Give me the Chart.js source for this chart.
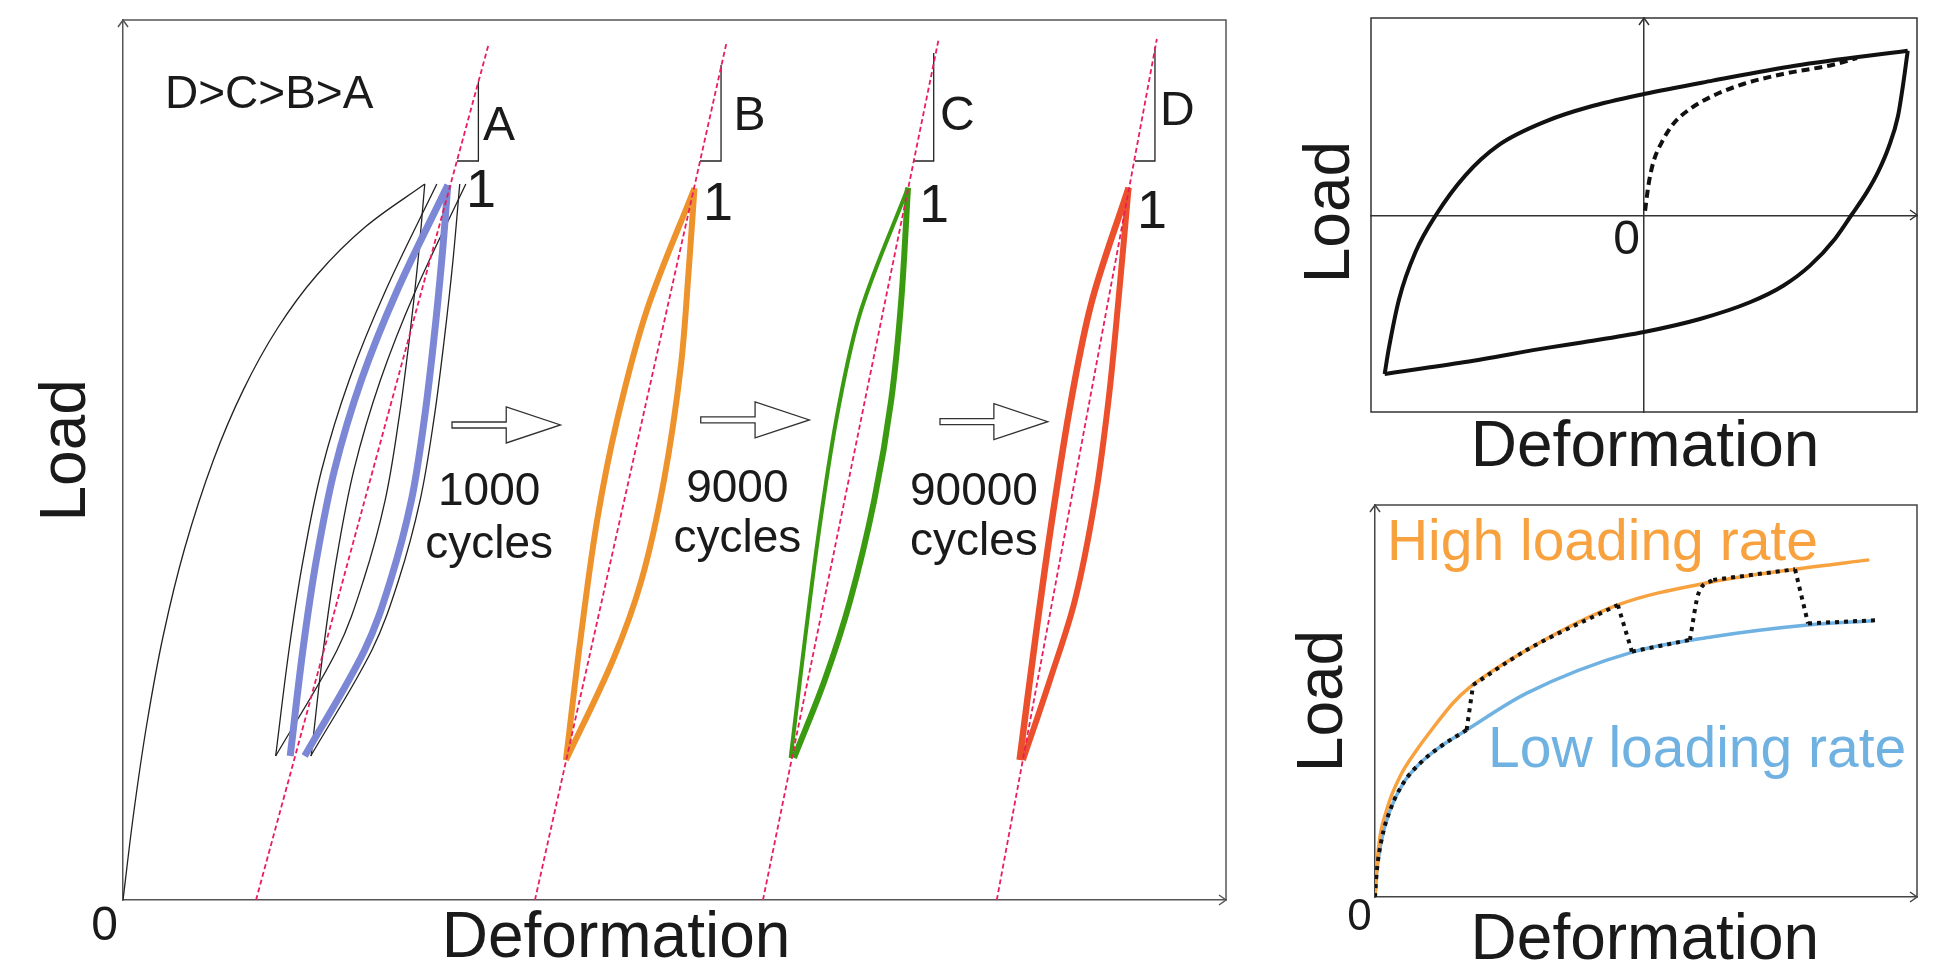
<!DOCTYPE html>
<html>
<head>
<meta charset="utf-8">
<script src="https://cdn.jsdelivr.net/npm/chart.js@4.4.1/dist/chart.umd.min.js"></script>
<style>
  html, body { margin: 0; padding: 0; background: #fff; }
  body { width: 1947px; height: 968px; position: relative; overflow: hidden; }
  canvas { position: absolute; }
</style>
</head>
<body>
<canvas id="chart-fatigue" width="1290" height="968" style="left:0;top:0"></canvas>
<canvas id="chart-loop" width="657" height="480" style="left:1290px;top:0"></canvas>
<canvas id="chart-rate" width="657" height="488" style="left:1290px;top:480px"></canvas>
<script>
// ── Data: left panel (deformation / load, both 0..1) ──────────────────────────
const firstLoading = [[0,0],[0.0098,0.1],[0.0216,0.2],[0.0364,0.3],[0.056,0.4],[0.082,0.5],[0.1092,0.58],[0.1402,0.65],[0.1756,0.71],[0.2198,0.765],[0.2736,0.8136]];
const earlyUnload1 = [[0.2736,0.8136],[0.2675,0.7273],[0.2595,0.6364],[0.25,0.5455],[0.2377,0.4545],[0.2181,0.3636],[0.1941,0.2841],[0.1384,0.1636]];
const earlyReload1 = [[0.1384,0.1636],[0.1505,0.2841],[0.1633,0.3864],[0.1801,0.4886],[0.2051,0.5909],[0.2383,0.6932],[0.2845,0.8136]];
const earlyReload2 = [[0.1706,0.1636],[0.1816,0.2841],[0.1934,0.3864],[0.2093,0.4886],[0.2334,0.5909],[0.2655,0.6932],[0.3108,0.8136]];
const earlyUnload2 = [[0.3053,0.8136],[0.2992,0.7273],[0.2912,0.6364],[0.2818,0.5455],[0.2694,0.4545],[0.2499,0.3636],[0.2257,0.2841],[0.1702,0.1636]];

const loopA_up   = [[0.1516,0.1636],[0.1631,0.2841],[0.1753,0.3864],[0.1917,0.4886],[0.2161,0.5909],[0.2488,0.6932],[0.2945,0.8125]];
const loopA_down = [[0.2945,0.8125],[0.289,0.7273],[0.2818,0.6364],[0.2731,0.5455],[0.2615,0.4545],[0.2426,0.3636],[0.2191,0.2841],[0.1647,0.1636]];
const loopB_up   = [[0.4016,0.1591],[0.4147,0.2955],[0.4299,0.4318],[0.448,0.5455],[0.475,0.6705],[0.5181,0.8088]];
const loopB_down = [[0.5181,0.8088],[0.5131,0.7197],[0.5057,0.606],[0.4905,0.4773],[0.4701,0.3636],[0.4442,0.2727],[0.4016,0.1591]];
const loopC_up   = [[0.6053,0.1614],[0.6182,0.2955],[0.6324,0.4318],[0.6483,0.5568],[0.6692,0.6705],[0.7117,0.8094]];
const loopC_down = [[0.7117,0.8094],[0.7056,0.6818],[0.6965,0.5682],[0.6811,0.4545],[0.6594,0.3409],[0.6362,0.25],[0.6083,0.1614]];
const loopD_up   = [[0.8129,0.1591],[0.827,0.2955],[0.8422,0.4318],[0.8597,0.5682],[0.8787,0.6818],[0.9117,0.8094]];
const loopD_down = [[0.9117,0.8094],[0.9025,0.6818],[0.8935,0.5682],[0.8812,0.4545],[0.8631,0.3409],[0.8404,0.25],[0.8159,0.1591]];

// secant (stiffness) lines and their slope triangles, one per loop A..D
const secantLines = [
  [[0.1206,0],[0.3318,0.9739]],
  [[0.3735,0],[0.5471,0.9739]],
  [[0.5802,0],[0.7395,0.9784]],
  [[0.7922,0],[0.9373,0.9784]],
];
const slopeTriangles = [
  [[0.3222,0.9299],[0.3222,0.8398],[0.3028,0.8398]],
  [[0.5422,0.9489],[0.5422,0.8398],[0.5231,0.8398]],
  [[0.735,0.9625],[0.735,0.8398],[0.717,0.8398]],
  [[0.9356,0.9693],[0.9356,0.8398],[0.9175,0.8398]],
];
const slopeNames  = ['A', 'B', 'C', 'D'];
const cycleCounts = ['1000', '9000', '90000'];

// ── Data: top-right hysteresis loop (both -1..1) ─────────────────────────────
const hystUpper = [[-0.95,-0.807],[-0.935,-0.68],[-0.897,-0.426],[-0.837,-0.188],[-0.762,0],[-0.655,0.2],[-0.535,0.352],[-0.353,0.479],[-0.202,0.548],[0,0.614],[0.251,0.682],[0.553,0.758],[0.966,0.834]];
const hystLower = [[0.966,0.834],[0.952,0.69],[0.93,0.5],[0.895,0.34],[0.858,0.22],[0.818,0.12],[0.76,0],[0.7,-0.12],[0.608,-0.257],[0.51,-0.359],[0.388,-0.443],[0.205,-0.528],[0,-0.594],[-0.222,-0.646],[-0.344,-0.672],[-0.655,-0.746],[-0.95,-0.807]];
const hystVirgin = [[0.004,0.022],[0.016,0.149],[0.034,0.267],[0.065,0.369],[0.107,0.462],[0.168,0.538],[0.254,0.606],[0.364,0.665],[0.51,0.716],[0.693,0.763],[0.78,0.797]];

// ── Data: bottom-right loading-rate curves (both 0..1) ───────────────────────
const highRate = [[0,0],[0.006,0.12],[0.0215,0.222],[0.046,0.307],[0.077,0.375],[0.107,0.431],[0.144,0.495],[0.173,0.533],[0.28,0.63],[0.448,0.745],[0.623,0.804],[0.775,0.836],[0.912,0.86]];
const lowRate  = [[0,0],[0.003,0.061],[0.012,0.145],[0.028,0.222],[0.052,0.29],[0.083,0.341],[0.12,0.383],[0.169,0.426],[0.28,0.52],[0.478,0.626],[0.623,0.664],[0.798,0.694],[0.92,0.705]];
// switching path: pieces along one curve, then jumps between them
const mixedRate = [
  [[0,0],[0.003,0.061],[0.012,0.145],[0.028,0.222],[0.052,0.29],[0.083,0.341],[0.12,0.383],[0.169,0.426]],
  [[0.169,0.426],[0.181,0.541]],
  [[0.181,0.541],[0.28,0.63],[0.448,0.745]],
  [[0.448,0.745],[0.474,0.626]],
  [[0.474,0.626],[0.581,0.656]],
  [[0.581,0.656],[0.597,0.775],[0.624,0.809]],
  [[0.624,0.809],[0.775,0.836]],
  [[0.775,0.836],[0.799,0.698]],
  [[0.799,0.698],[0.924,0.706]],
];

// ── Helpers ───────────────────────────────────────────────────────────────────
const FONT = '"Liberation Sans", Arial, Helvetica, sans-serif';
const INK  = '#1a1a1a';
Chart.defaults.font.family = FONT;

const pts = arr => arr.map(([x, y]) => ({ x, y }));
function line(arr, color, width, extra) {
  return Object.assign({
    data: pts(arr), borderColor: color, borderWidth: width, showLine: true,
    pointRadius: 0, tension: 0.35, fill: false, order: 2,
  }, extra);
}

function axis(min, max, color, position) {
  return {
    type: 'linear', min, max, position,
    ticks: { display: false },
    grid: { display: false, drawTicks: false },
    border: { display: true, color, width: 1.5 },
  };
}

// text labels placed in data units through the chart scales
const textPlugin = {
  id: 'texts',
  afterDraw(chart, args, opts) {
    const { ctx, scales: { x, y } } = chart;
    (opts.items || []).forEach(t => {
      ctx.save();
      ctx.font = `${t.size}px ${FONT}`;
      ctx.fillStyle = t.color || INK;
      ctx.textAlign = t.align || 'left';
      ctx.textBaseline = 'alphabetic';
      ctx.translate(x.getPixelForValue(t.x), y.getPixelForValue(t.y));
      if (t.rotate) ctx.rotate(-Math.PI / 2);
      ctx.fillText(t.text, 0, 0);
      ctx.restore();
    });
  },
};

// plot frame + small axis arrow heads
const framePlugin = {
  id: 'frame',
  afterDraw(chart, args, opts) {
    const { ctx, chartArea: a, scales: { x, y } } = chart;
    ctx.save();
    ctx.strokeStyle = opts.color;
    ctx.lineWidth = 1.5;
    ctx.beginPath();
    ctx.moveTo(a.left, a.top); ctx.lineTo(a.right, a.top); ctx.lineTo(a.right, a.bottom);
    if (opts.box) { ctx.lineTo(a.left, a.bottom); ctx.closePath(); }
    ctx.stroke();
    const ax = x.getPixelForValue(opts.origin[0]);
    const ay = y.getPixelForValue(opts.origin[1]);
    ctx.beginPath();
    ctx.moveTo(ax - 5, a.top + 7); ctx.lineTo(ax, a.top); ctx.lineTo(ax + 5, a.top + 7);
    ctx.moveTo(a.right - 7, ay - 5); ctx.lineTo(a.right, ay); ctx.lineTo(a.right - 7, ay + 5);
    ctx.stroke();
    ctx.restore();
  },
};

// hollow "next stage" arrows between the loops
const blockArrowPlugin = {
  id: 'blockArrows',
  afterDatasetsDraw(chart, args, opts) {
    const { ctx, scales: { x, y } } = chart;
    (opts.items || []).forEach(([x0, x1, yv]) => {
      const p0 = x.getPixelForValue(x0), p1 = x.getPixelForValue(x1), py = y.getPixelForValue(yv);
      const pm = (p0 + p1) / 2;
      ctx.save();
      ctx.beginPath();
      ctx.moveTo(p0, py - 3); ctx.lineTo(pm, py - 3); ctx.lineTo(pm, py - 18);
      ctx.lineTo(p1, py); ctx.lineTo(pm, py + 18); ctx.lineTo(pm, py + 3);
      ctx.lineTo(p0, py + 3); ctx.closePath();
      ctx.fillStyle = '#fff'; ctx.fill();
      ctx.strokeStyle = '#333'; ctx.lineWidth = 1.3; ctx.stroke();
      ctx.restore();
    });
  },
};

const baseOptions = (padding) => ({
  responsive: false,
  animation: false,
  events: [],
  layout: { padding },
  plugins: { legend: { display: false }, tooltip: { enabled: false } },
});

// ── Left chart ────────────────────────────────────────────────────────────────
const BLUE = '#7c87d6', ORANGE = '#ee922c', GREEN = '#3a9a10', RED = '#ec4f2c', SECANT = '#ec1c5c';
const fatigueSets = [
  ...secantLines.map(l => line(l, SECANT, 1.8, { tension: 0, borderDash: [5, 3], order: 0 })),
  line(loopA_up, BLUE, 7, { order: 1 }), line(loopA_down, BLUE, 7, { order: 1 }),
  line(loopB_up, ORANGE, 6, { order: 1 }), line(loopB_down, ORANGE, 6, { order: 1 }),
  line(loopC_up, GREEN, 4, { order: 1 }), line(loopC_down, GREEN, 6, { order: 1 }),
  line(loopD_up, RED, 6.5, { order: 1 }), line(loopD_down, RED, 6, { order: 1 }),
  ...[firstLoading, earlyUnload1, earlyReload1, earlyReload2, earlyUnload2].map(c => line(c, '#222', 1.3)),
  ...slopeTriangles.map(t => line(t, '#222', 1.3, { tension: 0 })),
];

const slopeLabelPos = [[0.3264,0.8636],[0.5535,0.875],[0.7407,0.875],[0.9402,0.8807]];
const onePos        = [[0.311,0.7875],[0.5258,0.7727],[0.7217,0.7705],[0.9193,0.7636]];
const cyclePos      = [[0.332,0.4489,0.3886],[0.557,0.4523,0.3955],[0.7715,0.4489,0.392]];
const fatigueTexts = [
  { text: 'D>C>B>A', x: 0.0381, y: 0.9, size: 46 },
  ...slopeNames.map((s, i) => ({ text: s, x: slopeLabelPos[i][0], y: slopeLabelPos[i][1], size: 48 })),
  ...slopeNames.map((s, i) => ({ text: '1', x: onePos[i][0], y: onePos[i][1], size: 54 })),
  ...cycleCounts.flatMap((c, i) => [
    { text: c, x: cyclePos[i][0], y: cyclePos[i][1], size: 46, align: 'center' },
    { text: 'cycles', x: cyclePos[i][0], y: cyclePos[i][2], size: 46, align: 'center' },
  ]),
  { text: '0', x: -0.0045, y: -0.0455, size: 48, align: 'right' },
  { text: 'Load', x: -0.0345, y: 0.511, size: 64, align: 'center', rotate: true },
  { text: 'Deformation', x: 0.447, y: -0.0648, size: 64, align: 'center' },
];

const fatigueOpts = baseOptions({ left: 123, top: 20, right: 64, bottom: 68 });
fatigueOpts.scales = { x: axis(0, 1, '#555', 'bottom'), y: axis(0, 1, '#555', 'left') };
fatigueOpts.plugins.texts = { items: fatigueTexts };
fatigueOpts.plugins.frame = { color: '#555', box: false, origin: [0, 0] };
fatigueOpts.plugins.blockArrows = { items: [[0.2983,0.3966,0.5398],[0.5238,0.6223,0.5455],[0.7407,0.8384,0.5435]] };

new Chart(document.getElementById('chart-fatigue').getContext('2d'), {
  type: 'scatter',
  data: { datasets: fatigueSets },
  options: fatigueOpts,
  plugins: [blockArrowPlugin, framePlugin, textPlugin],
});

// ── Top-right: hysteresis loop ───────────────────────────────────────────────
const loopOpts = baseOptions({ left: 81, top: 18, right: 30, bottom: 68 });
loopOpts.scales = { x: axis(-1, 1, '#333', 'center'), y: axis(-1, 1, '#333', 'center') };
loopOpts.plugins.texts = { items: [
  { text: '0', x: -0.015, y: -0.198, size: 48, align: 'right' },
  { text: 'Load', x: -1.081, y: 0.015, size: 64, align: 'center', rotate: true },
  { text: 'Deformation', x: 0.004, y: -1.274, size: 64, align: 'center' },
] };
loopOpts.plugins.frame = { color: '#333', box: true, origin: [0, 0] };

new Chart(document.getElementById('chart-loop').getContext('2d'), {
  type: 'scatter',
  data: { datasets: [
    line(hystUpper, '#111', 4, { cubicInterpolationMode: 'monotone' }),
    line(hystLower, '#111', 4, { cubicInterpolationMode: 'monotone' }),
    line(hystVirgin, '#111', 4, { borderDash: [8, 5], cubicInterpolationMode: 'monotone' }),
  ] },
  options: loopOpts,
  plugins: [framePlugin, textPlugin],
});

// ── Bottom-right: loading rate ───────────────────────────────────────────────
const HIGH = '#f7a23e', LOW = '#6fb2e2';
const rateOpts = baseOptions({ left: 85, top: 25, right: 30, bottom: 71 });
rateOpts.scales = { x: axis(0, 1, '#444', 'bottom'), y: axis(0, 1, '#444', 'left') };
rateOpts.plugins.texts = { items: [
  { text: 'High loading rate', x: 0.022, y: 0.86, size: 57, color: HIGH },
  { text: 'Low loading rate', x: 0.2085, y: 0.332, size: 57, color: LOW },
  { text: '0', x: -0.006, y: -0.084, size: 44, align: 'right' },
  { text: 'Load', x: -0.061, y: 0.5, size: 64, align: 'center', rotate: true },
  { text: 'Deformation', x: 0.498, y: -0.158, size: 64, align: 'center' },
] };
rateOpts.plugins.frame = { color: '#444', box: false, origin: [0, 0] };

new Chart(document.getElementById('chart-rate').getContext('2d'), {
  type: 'scatter',
  data: { datasets: [
    ...mixedRate.map(p => line(p, '#111', 4, { borderDash: [4, 5], cubicInterpolationMode: 'monotone', order: 0 })),
    line(highRate, HIGH, 3.5, { cubicInterpolationMode: 'monotone' }),
    line(lowRate, LOW, 3.5, { cubicInterpolationMode: 'monotone' }),
  ] },
  options: rateOpts,
  plugins: [framePlugin, textPlugin],
});
</script>
</body>
</html>
